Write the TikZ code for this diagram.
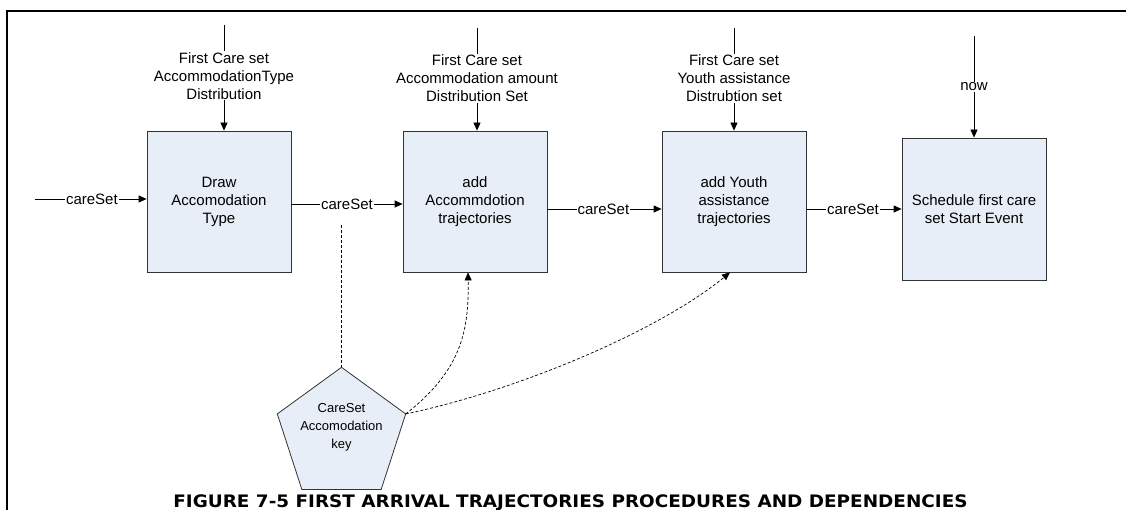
\documentclass[tikz,border=0pt]{standalone}
\usepackage{fontspec}
\setmainfont{Liberation Sans}
\newfontfamily\capfont[FakeStretch=1.07]{DejaVu Sans}
\usetikzlibrary{arrows.meta,shapes.geometric}
\definecolor{boxblue}{HTML}{E8EEF7}
\definecolor{edgegrey}{HTML}{333333}

\begin{document}
\begin{tikzpicture}[x=1pt,y=-1pt,
  proc/.style={draw=edgegrey, fill=boxblue, line width=0.8pt, inner sep=0pt,
    minimum width=144pt, minimum height=141pt, align=center,
    font=\fontsize{15}{18}\selectfont},
  keyshape/.style={draw=edgegrey, fill=boxblue, line width=0.8pt,
    regular polygon, regular polygon sides=5, minimum size=135pt,
    inner sep=0pt, outer sep=0pt},
  lbl/.style={fill=white, inner sep=1pt, align=center,
    font=\fontsize{15}{18}\selectfont},
  flow/.style={line width=0.8pt, -{Triangle[length=8pt,width=7pt]}},
  dep/.style={line width=0.7pt, dash pattern=on 3pt off 2pt,
    -{Triangle[length=8pt,width=7pt]}},
  link/.style={line width=0.7pt, dash pattern=on 3pt off 2pt}
]
\useasboundingbox (0,0) rectangle (1126,510);

% frame
\draw[line width=2pt] (7,510) -- (7,11) -- (1126,11);

% process boxes
\node[proc] (b1) at (219,201.5) {Draw\\Accomodation\\Type};
\node[proc] (b2) at (475,201.5) {add\\Accommdotion\\trajectories};
\node[proc] (b3) at (734,201.5) {add Youth\\assistance\\trajectories};
\node[proc, minimum height=142pt] (b4) at (974,209) {Schedule first care\\set Start Event};

% key
\node[keyshape] (key) at (341.5,434.8) {};
\node[align=center, inner sep=0pt, font=\fontsize{13}{18}\selectfont]
  (keytext) at (341.5,427) {CareSet\\Accomodation\\key};

% control inputs from above
\coordinate (in1) at (224,25);
\coordinate (in2) at (477,28);
\coordinate (in3) at (734,28);
\coordinate (in4) at (974,36);
\draw[flow] (in1) -- node[lbl, pos=0.48] {First Care set\\AccommodationType\\Distribution} (in1 |- b1.north);
\draw[flow] (in2) -- node[lbl, pos=0.49] {First Care set\\Accommodation amount\\Distribution Set} (in2 |- b2.north);
\draw[flow] (in3) -- node[lbl, pos=0.49] {First Care set\\Youth assistance\\Distrubtion set} (in3 |- b3.north);
\draw[flow] (in4) -- node[lbl, pos=0.5] {now} (in4 |- b4.north);

% careSet flow
\coordinate (start) at (35,199);
\draw[flow] (start) -- node[lbl, pos=0.51] {careSet} (b1.west |- start);
\draw[flow] (b1.east |- 0,204) -- node[lbl, pos=0.5] {careSet} (b2.west |- 0,204);
\draw[flow] (b2.east |- 0,209) -- node[lbl, pos=0.49] {careSet} (b3.west |- 0,209);
\draw[flow] (b3.east |- 0,209) -- node[lbl, pos=0.49] {careSet} (b4.west |- 0,209);

% key dependencies
\coordinate (keylink) at (341.5,225);
\draw[link] (keylink) -- (key.corner 1);
\draw[dep] (key.corner 5) .. controls (462,370) and (469,330) .. (468,0 |- b2.south);
\draw[dep] (key.corner 5) .. controls (520,390) and (660,330) .. (730,0 |- b3.south);

% caption
\node[anchor=base, inner sep=0pt, font=\capfont\bfseries\fontsize{17.2}{19}\selectfont]
  (caption) at (570.5,507.5) {FIGURE 7-5 FIRST ARRIVAL TRAJECTORIES PROCEDURES AND DEPENDENCIES};
\end{tikzpicture}
\end{document}
